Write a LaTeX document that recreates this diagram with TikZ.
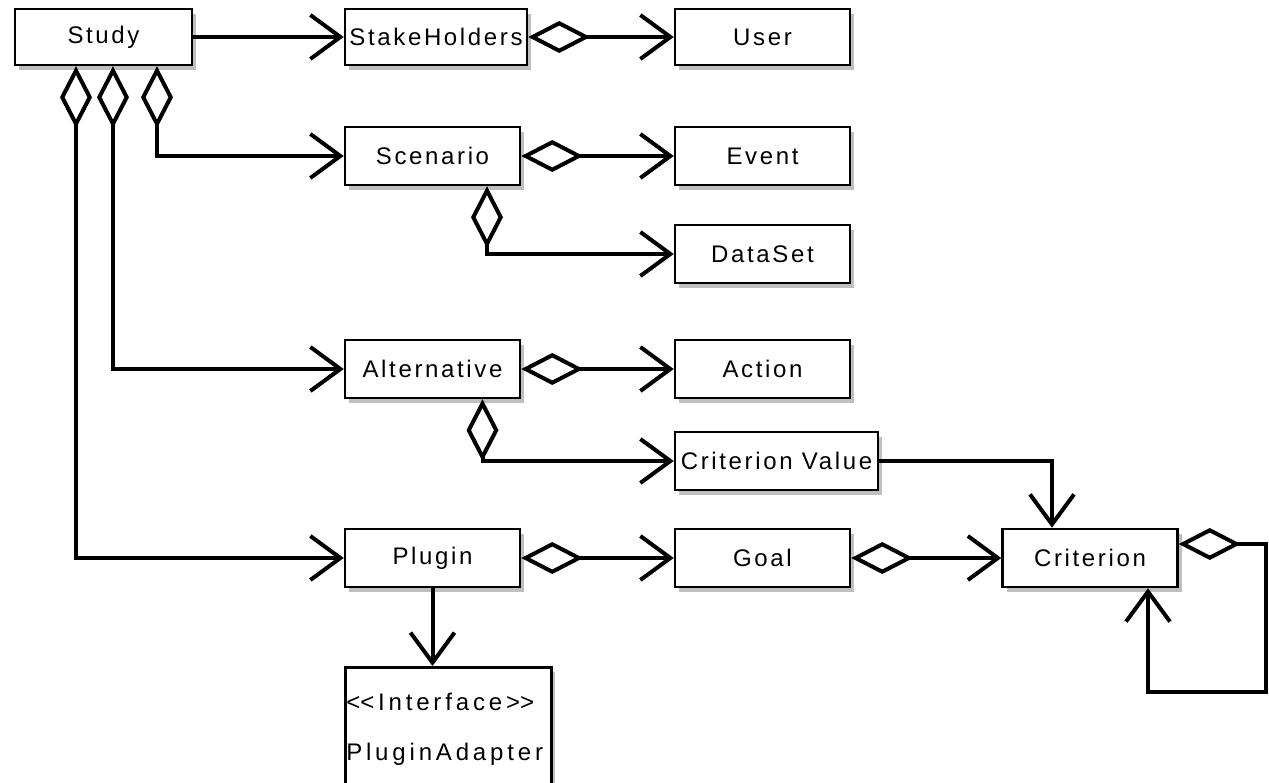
\documentclass[tikz,border=0pt]{standalone}
\usepackage{fontspec}
\newfontfamily\umlfont{Liberation Sans}[LetterSpace=11]
\newfontfamily\umlwide{Liberation Sans}[LetterSpace=16]
\usetikzlibrary{arrows.meta,shadows}
\tikzset{
  umlbox/.style={draw, line width=2.5pt, fill=white, inner sep=0pt,
    minimum width=175pt, minimum height=58pt,
    font=\umlfont\fontsize{24}{28}\selectfont,
    drop shadow={shadow xshift=4pt, shadow yshift=-5pt, opacity=0.25, fill=black}},
  conn/.style={line width=4pt},
  navarr/.style={conn, arrows={-Straight Barb[length=30pt,width=44pt]}},
  aggarr/.style={conn, arrows={Diamond[open,length=62pt,width=32pt]-Straight Barb[length=30pt,width=44pt]}},
}
\begin{document}
\begin{tikzpicture}[x=1pt,y=-1pt]
\useasboundingbox (0,0) rectangle (1269,783);
\clip (0,0) rectangle (1269,783);
\fill[white] (0,0) rectangle (1269,783);

\node[umlbox, minimum width=177pt, minimum height=56pt] (study) at (103.5,37) {Study};
\node[umlbox, minimum width=182pt, minimum height=56pt] (stake) at (436,37) {StakeHolders};
\node[umlbox, minimum height=56pt] (user) at (762.5,37) {User};
\node[umlbox] (scen) at (432.5,156) {Scenario};
\node[umlbox] (event) at (762.5,156) {Event};
\node[umlbox] (data) at (762.5,254) {DataSet};
\node[umlbox] (alt) at (432.5,369) {Alternative};
\node[umlbox] (action) at (762.5,369) {Action};
\node[umlbox, minimum width=203pt] (cval) at (776.5,461) {Criterion Value};
\node[umlbox] (plugin) at (432.5,558) {Plugin};
\node[umlbox] (goal) at (762.5,558) {Goal};
\node[umlbox] (crit) at (1090,558) {Criterion};
\node[umlbox, anchor=north west, minimum width=206pt, minimum height=124pt,
      align=left, text width=204pt, inner xsep=1pt,
      font=\umlwide\fontsize{24}{28}\selectfont] (pad) at (344,666)
      {<\kern0pt<Interface>\kern0pt>\\[22pt]PluginAdapter};

\coordinate (cvcorner) at (1052,461);
\coordinate (loopA) at (1266,544);
\coordinate (loopB) at (1266,692);
\coordinate (loopC) at (1148,692);

% Study associations
\draw[navarr] (study.east) -- (stake.west);
\draw[aggarr] ([xshift=53.5pt]study.south) |- (scen.west);
\draw[aggarr] ([xshift=9.5pt]study.south) |- (alt.west);
\draw[aggarr] ([xshift=-27.5pt]study.south) |- (plugin.west);

\draw[aggarr] (stake.east) -- (user.west);
\draw[aggarr] (scen.east) -- (event.west);
\draw[aggarr] ([xshift=54.5pt]scen.south) |- (data.west);
\draw[aggarr] (alt.east) -- (action.west);
\draw[aggarr] ([xshift=50pt]alt.south) |- (cval.west);
\draw[aggarr] (plugin.east) -- (goal.west);
\draw[aggarr] (goal.east) -- (crit.west);
\draw[navarr] (plugin.south) -- (pad.north -| plugin.south);
\draw[navarr] (cval.east) -- (cvcorner) -- (crit.north -| cvcorner);
\draw[aggarr] ([yshift=14pt]crit.east) -- (loopA) -- (loopB) -- (loopC) -- (crit.south -| loopC);
\end{tikzpicture}
\end{document}
